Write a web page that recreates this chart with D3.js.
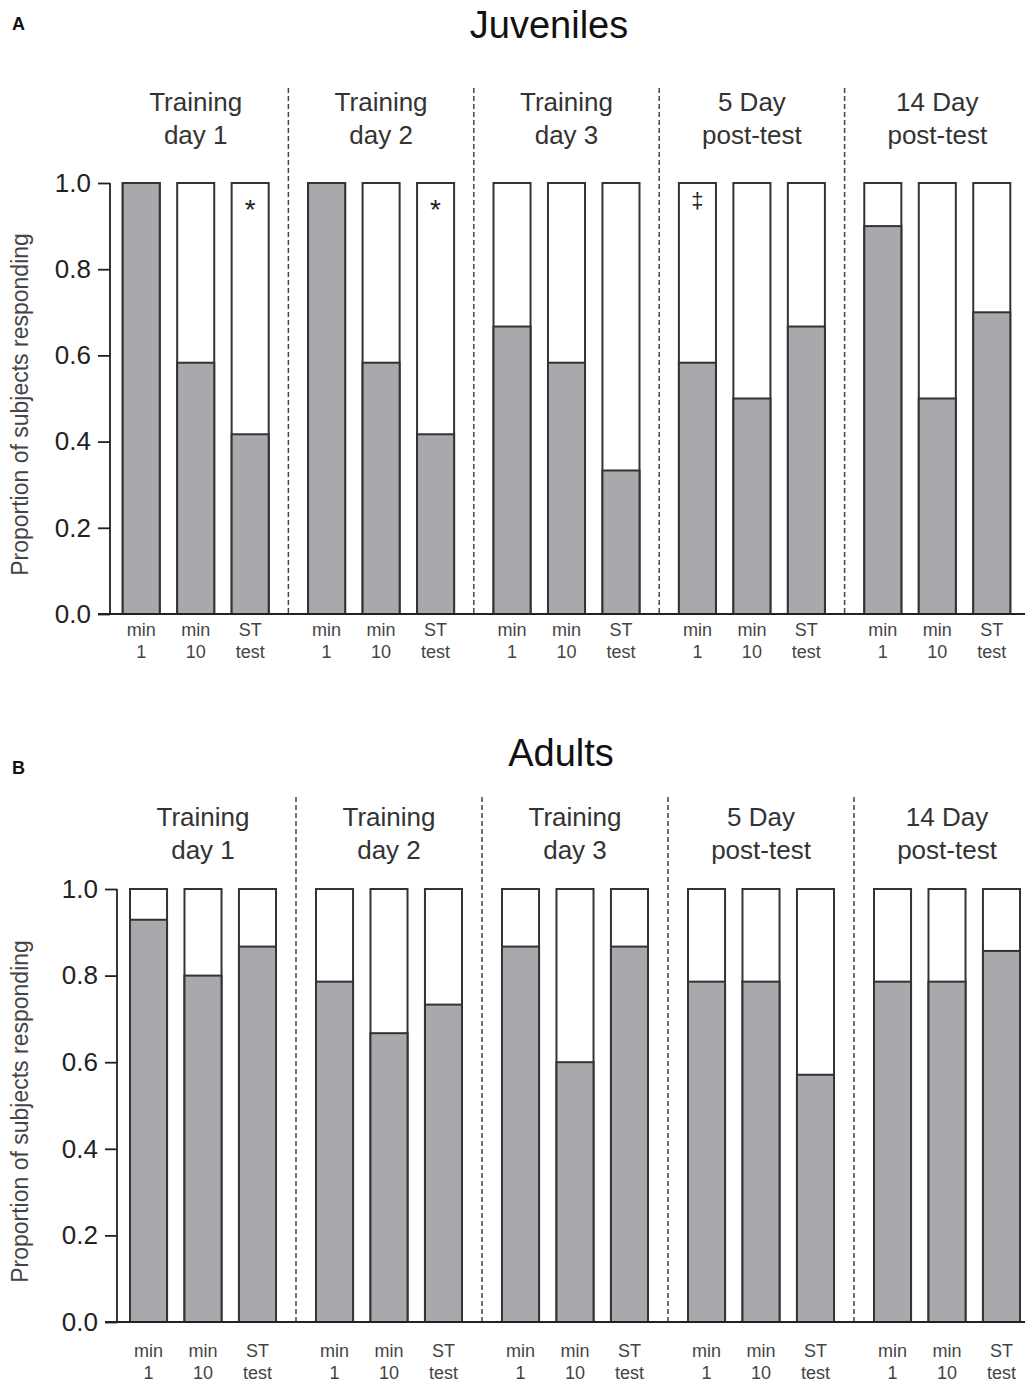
<!DOCTYPE html>
<html>
<head>
<meta charset="utf-8">
<script src="https://cdn.jsdelivr.net/npm/d3@7"></script>
<style>
  body { margin: 0; background: #fff; }
  text { font-family: "Liberation Sans", Arial, sans-serif; }
</style>
</head>
<body>
<div id="chart"></div>
<script>
'use strict';

// data
var groups = ["Training day 1", "Training day 2", "Training day 3", "5 Day post-test", "14 Day post-test"];
var groupLines = [["Training", "day 1"], ["Training", "day 2"], ["Training", "day 3"], ["5 Day", "post-test"], ["14 Day", "post-test"]];
var conditions = ["min 1", "min 10", "ST test"];
var conditionLines = [["min", "1"], ["min", "10"], ["ST", "test"]];
var yTicks = [0, 0.2, 0.4, 0.6, 0.8, 1.0];

var juvenileValues = [
    [1.0, 0.583, 0.417],
    [1.0, 0.583, 0.417],
    [0.667, 0.583, 0.333],
    [0.583, 0.5, 0.667],
    [0.9, 0.5, 0.7]
];
var adultValues = [
    [0.929, 0.8, 0.867],
    [0.786, 0.667, 0.733],
    [0.867, 0.6, 0.867],
    [0.786, 0.786, 0.571],
    [0.786, 0.786, 0.857]
];
// significance marks: group index, condition index, symbol
var juvenileMarks = [[0, 2, "*"], [1, 2, "*"], [3, 0, "\u2021"]];
var adultMarks = [];

var width = 1025, height = 1384;
var svg = d3.select("#chart").append("svg")
    .attr("width", width)
    .attr("height", height);

function drawPanel(opt) {
    var g = svg.append("g");

    var y = d3.scaleLinear().domain([0, 1]).range([opt.bottom, opt.top]);

    // groups are spread evenly, bars sit inside each group
    var xGroup = d3.scaleBand().domain(groups).range(opt.xRange).padding(0);
    var inner = 146;
    var xBar = d3.scaleBand().domain(conditions)
        .range([(xGroup.bandwidth() - inner) / 2, (xGroup.bandwidth() + inner) / 2])
        .paddingInner(0.32).paddingOuter(0);

    // panel letter and title
    g.append("text")
        .attr("x", 12).attr("y", opt.letterY)
        .style("font-size", "18px").style("font-weight", "bold").style("fill", "#111")
        .text(opt.letter);
    g.append("text")
        .attr("x", opt.titleX).attr("y", opt.titleY)
        .attr("text-anchor", "middle")
        .style("font-size", "38px").style("fill", "#111")
        .text(opt.title);

    // dashed separators between groups
    g.selectAll("line.sep")
        .data(groups.slice(1))
        .enter().append("line")
        .attr("class", "sep")
        .attr("x1", function (d) { return xGroup(d); })
        .attr("x2", function (d) { return xGroup(d); })
        .attr("y1", opt.dashTop).attr("y2", opt.bottom)
        .style("stroke", "#444").style("stroke-width", 1.5)
        .style("stroke-dasharray", "5,3");

    // group headers
    var head = g.selectAll("text.head")
        .data(groups.map(function (d, i) { return {g: d, lines: groupLines[i]}; }))
        .enter().append("text")
        .attr("class", "head")
        .attr("text-anchor", "middle")
        .style("font-size", "26px").style("fill", "#333");
    head.selectAll("tspan")
        .data(function (d) { return d.lines.map(function (t) { return {t: t, g: d.g}; }); })
        .enter().append("tspan")
        .attr("x", function (d) { return xGroup(d.g) + xGroup.bandwidth() / 2; })
        .attr("y", function (d, i) { return opt.headY + i * opt.headGap; })
        .text(function (d) { return d.t; });

    // bars
    var cells = g.selectAll("g.grp")
        .data(opt.values)
        .enter().append("g")
        .attr("class", "grp")
        .attr("transform", function (d, i) { return "translate(" + xGroup(groups[i]) + ",0)"; });

    var bar = cells.selectAll("g.bar")
        .data(function (d) { return d.map(function (v, j) { return {v: v, c: conditions[j]}; }); })
        .enter().append("g")
        .attr("class", "bar");

    bar.append("rect")
        .attr("x", function (d) { return xBar(d.c); })
        .attr("width", xBar.bandwidth())
        .attr("y", y(1))
        .attr("height", y(0) - y(1))
        .style("fill", "#fff").style("stroke", "#333").style("stroke-width", 2);

    bar.append("rect")
        .attr("x", function (d) { return xBar(d.c); })
        .attr("width", xBar.bandwidth())
        .attr("y", function (d) { return y(d.v); })
        .attr("height", function (d) { return y(0) - y(d.v); })
        .style("fill", "#a8a9ac").style("stroke", "#333").style("stroke-width", 2);

    // significance marks (asterisk sits high in the font, so it is set lower)
    g.selectAll("text.mark")
        .data(opt.marks)
        .enter().append("text")
        .attr("class", "mark")
        .attr("x", function (d) { return xGroup(groups[d[0]]) + xBar(conditions[d[1]]) + xBar.bandwidth() / 2; })
        .attr("y", function (d) { return y(1) + (d[2] === "*" ? 36 : 25); })
        .attr("text-anchor", "middle")
        .style("font-size", function (d) { return d[2] === "*" ? "28px" : "22px"; })
        .style("fill", "#222")
        .text(function (d) { return d[2]; });

    // y axis
    var yAxis = d3.axisLeft(y)
        .tickValues(yTicks)
        .tickFormat(d3.format(".1f"))
        .tickSize(12)
        .tickPadding(7);
    var ax = g.append("g")
        .attr("transform", "translate(" + opt.axisX + ",0)")
        .call(yAxis);
    ax.select(".domain").attr("d", "M0," + y(1) + "V" + y(0))
        .style("stroke", "#222").style("stroke-width", 1.8);
    ax.selectAll(".tick line").style("stroke", "#222").style("stroke-width", 1.8);
    ax.selectAll(".tick text")
        .style("font-size", "26px").style("fill", "#222")
        .style("font-family", "'Liberation Sans', Arial, sans-serif");

    // baseline
    g.append("line")
        .attr("x1", opt.axisX - 12).attr("x2", width)
        .attr("y1", y(0)).attr("y2", y(0))
        .style("stroke", "#222").style("stroke-width", 1.8);

    // category labels under bars
    var lab = cells.selectAll("text.cat")
        .data(conditionLines.map(function (d, j) { return {c: conditions[j], lines: d}; }))
        .enter().append("text")
        .attr("class", "cat")
        .attr("text-anchor", "middle")
        .style("font-size", "18px").style("fill", "#444");
    lab.selectAll("tspan")
        .data(function (d) { return d.lines.map(function (t) { return {t: t, c: d.c}; }); })
        .enter().append("tspan")
        .attr("x", function (d) { return xBar(d.c) + xBar.bandwidth() / 2; })
        .attr("y", function (d, i) { return y(0) + opt.labY + i * 22; })
        .text(function (d) { return d.t; });

    // y axis title
    g.append("text")
        .attr("transform", "translate(" + 28 + "," + ((y(0) + y(1)) / 2 + 6) + ") rotate(-90)")
        .attr("text-anchor", "middle")
        .style("font-size", "23px").style("fill", "#444")
        .text("Proportion of subjects responding");
}

drawPanel({
    letter: "A", letterY: 30,
    title: "Juveniles", titleX: 549, titleY: 38,
    top: 183, bottom: 614, axisX: 110,
    xRange: [103, 1030],
    dashTop: 88, headY: 111, headGap: 33,
    labY: 22,
    values: juvenileValues, marks: juvenileMarks
});

drawPanel({
    letter: "B", letterY: 774,
    title: "Adults", titleX: 561, titleY: 766,
    top: 889, bottom: 1322, axisX: 117,
    xRange: [110, 1040],
    dashTop: 797, headY: 826, headGap: 33,
    labY: 35,
    values: adultValues, marks: adultMarks
});
</script>
</body>
</html>
